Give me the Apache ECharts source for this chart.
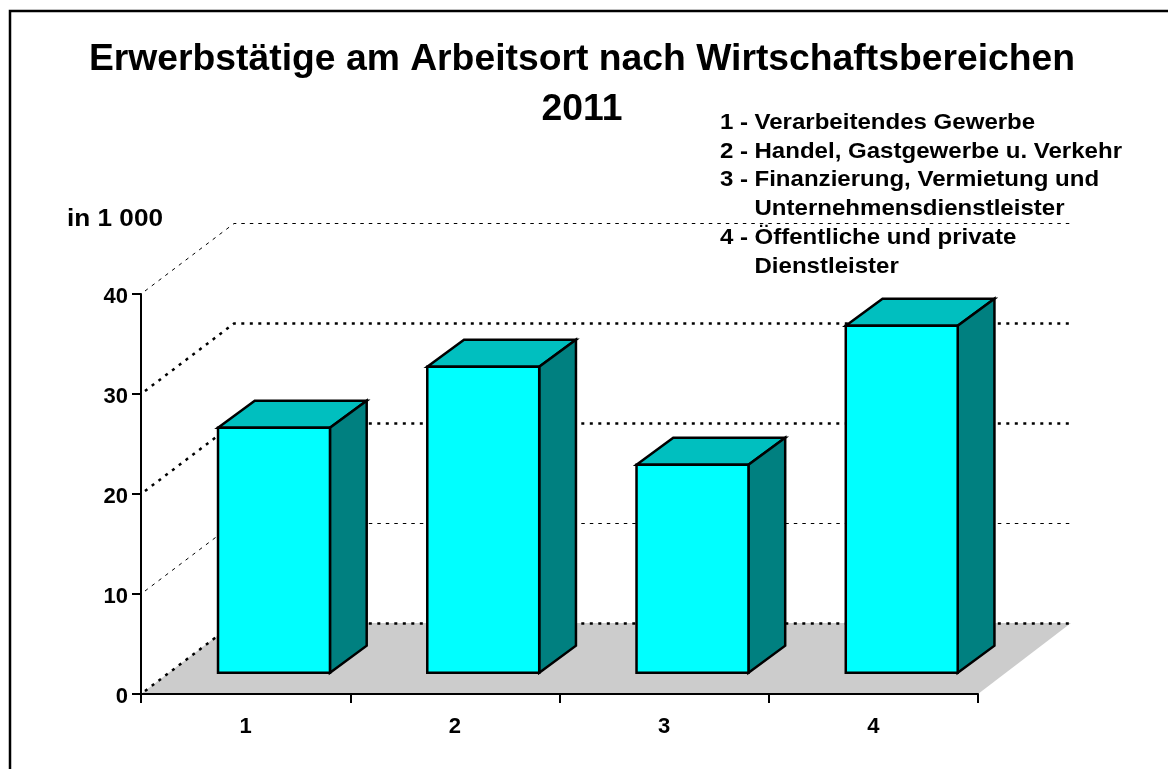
<!DOCTYPE html>
<html><head><meta charset="utf-8">
<style>html,body{margin:0;padding:0;background:#fff}#c{width:1168px;height:769px}</style>
<script src="https://cdn.jsdelivr.net/npm/echarts@6/dist/echarts.min.js"></script>
</head><body><div id="c"></div>
<script>
var categories = ['1','2','3','4'];
var values = [24.5, 30.6, 20.8, 34.7];
var yTicks = [0, 10, 20, 30, 40];
var wallHeavy = [true, false, true, true, false];
var titleLines = 'Erwerbstätige am Arbeitsort nach Wirtschaftsbereichen\n2011';
var unitLabel = 'in 1 000';
var legendNumbers = ['1 - ','2 - ','3 - ','','4 - ',''];
var legendLines = ['Verarbeitendes Gewerbe','Handel, Gastgewerbe u. Verkehr','Finanzierung, Vermietung und','Unternehmensdienstleister','Öffentliche und private','Dienstleister'];
var FONT = '"Liberation Sans", Arial, sans-serif';
var DX = 93, DY = -71;
function poly(pts, fill, stroke, lw){
  return {type:'polygon', shape:{points:pts}, style:{fill:fill, stroke:stroke||null, lineWidth:lw||0, lineJoin:'miter'}};
}
var legendY = [112,141,169,198,227,256];
var legendEls = [];
legendLines.forEach(function(t,i){
  if(legendNumbers[i]) legendEls.push({type:'text',z:20,x:720,y:legendY[i],scaleX:1.093,style:{text:legendNumbers[i],font:'bold 22px '+FONT,fill:'#000'}});
  legendEls.push({type:'text',z:20,x:754.5,y:legendY[i],scaleX:1.093,style:{text:t,font:'bold 22px '+FONT,fill:'#000'}});
});
var chart = echarts.init(document.getElementById('c'), null, {renderer:'canvas'});
chart.setOption({
  animation:false,
  backgroundColor:'#fff',
  title:{text:titleLines, left:577, top:30, textAlign:'center',
    textStyle:{fontFamily:FONT,fontWeight:'bold',fontSize:37.3,color:'#000',lineHeight:50}},
  grid:{left:141, top:294, width:837, height:400, containLabel:false},
  xAxis:{type:'category', data:categories, z:10,
    axisLine:{show:true,lineStyle:{color:'#000',width:2}},
    axisTick:{show:true,length:9,alignWithLabel:false,lineStyle:{color:'#000',width:2}},
    axisLabel:{margin:22,fontFamily:FONT,fontWeight:'bold',fontSize:22,color:'#000'},
    splitLine:{show:false}},
  yAxis:{type:'value', min:0, max:40, interval:10, z:10,
    axisLine:{show:true,onZero:false,lineStyle:{color:'#000',width:2}},
    axisTick:{show:true,length:9,lineStyle:{color:'#000',width:2}},
    axisLabel:{margin:13,verticalAlign:'top',lineHeight:5,fontFamily:FONT,fontWeight:'bold',fontSize:22,color:'#000'},
    splitLine:{show:false}},
  graphic:[
    {type:'polyline',z:0,shape:{points:[[10,769],[10,11],[1168,11]]},style:{fill:'none',stroke:'#000',lineWidth:2.5}},
    {type:'text',z:20,x:67,y:207,scaleX:1.09,style:{text:unitLabel,font:'bold 24px '+FONT,fill:'#000'}},
    {type:'group',z:20,children:legendEls}
  ],
  series:[
    {type:'custom', name:'floor', coordinateSystem:'cartesian2d', clip:false, z:1, silent:true,
     data:[0], encode:{x:[],y:0},
     renderItem:function(p,api){
       var L=p.coordSys.x, R=p.coordSys.x+p.coordSys.width, y=p.coordSys.y+p.coordSys.height;
       return poly([[L,y],[L+DX,y+DY],[R+DX,y+DY],[R,y]],'#cccccc');
     }},
    {type:'custom', name:'walls', coordinateSystem:'cartesian2d', clip:false, z:2, silent:true,
     data:yTicks.map(function(v){return [0,v];}),
     renderItem:function(p,api){
       var v=api.value(1), y=api.coord([0,v])[1], L=p.coordSys.x, R=p.coordSys.x+p.coordSys.width;
       var heavy=wallHeavy[p.dataIndex];
       var st={stroke:'#000',fill:'none',lineWidth:heavy?2.5:1,lineDash:heavy?[3,5.5]:[3.5,5]};
       return {type:'polyline',shape:{points:[[L+4,y-3],[L+DX,y+DY+0.5],[R+DX-1,y+DY+0.5]]},style:st};
     }},
    {type:'custom', name:'bars', coordinateSystem:'cartesian2d', clip:false, z:3, silent:true,
     data:values.map(function(v,i){return [i,v];}),
     renderItem:function(p,api){
       var i=api.value(0), v=api.value(1);
       var c=api.coord([i,0]), t=api.coord([i,v]), band=api.size([1,0])[0];
       var w=band*0.535, bx=DX*0.305, by=DY*0.3, fx=DX*0.395, fy=DY*0.38;
       var x0=c[0]+bx-w/2, x1=x0+w, yb=c[1]+by, yt=t[1]+by;
       var s='#000', lw=2.5;
       return {type:'group',children:[
         poly([[x0,yt],[x1,yt],[x1+fx,yt+fy],[x0+fx,yt+fy]],'#00bfbf',s,lw),
         poly([[x1,yt],[x1+fx,yt+fy],[x1+fx,yb+fy],[x1,yb]],'#008080',s,lw),
         poly([[x0,yt],[x1,yt],[x1,yb],[x0,yb]],'#00ffff',s,lw)
       ]};
     }}
  ]
});
</script></body></html>
